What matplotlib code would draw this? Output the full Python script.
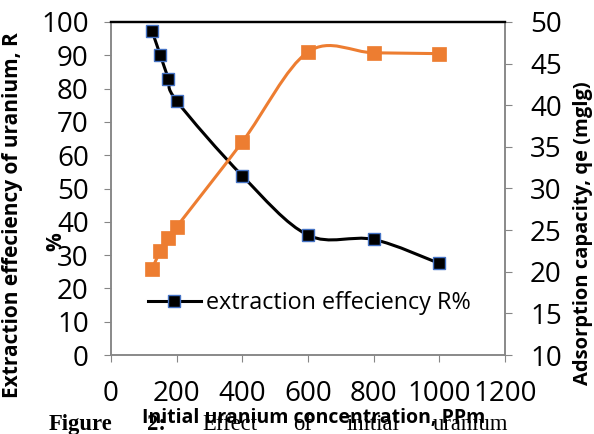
import matplotlib
matplotlib.use("Agg")
import matplotlib.pyplot as plt
from matplotlib.path import Path
from matplotlib.patches import PathPatch
from matplotlib.lines import Line2D

# values
conc = [125, 150, 175, 200, 400, 600, 800, 1000]          # Initial uranium concentration, PPm
extraction = [97.3, 90.1, 82.9, 76.3, 53.8, 36.0, 34.7, 27.5]   # R %
adsorption = [20.3, 22.5, 24.1, 25.4, 35.6, 46.4, 46.3, 46.2]   # qe (mg/g)

left_ticks = list(range(0, 101, 10))
right_ticks = list(range(10, 51, 5))
x_ticks = list(range(0, 1201, 200))

W, H = 594, 434
plt.rcParams['font.family'] = ['Open Sans', 'DejaVu Sans']

ORANGE = '#ED7D31'
GRAY = '#868686'
EDGE_BLUE = '#4472C4'


def smooth_path(xs, ys):
    """Excel-like smoothed line: Catmull-Rom converted to cubic Bezier segments."""
    pts = list(zip(xs, ys))
    n = len(pts)
    verts = [pts[0]]
    codes = [Path.MOVETO]
    for i in range(n - 1):
        p0 = pts[i - 1] if i > 0 else pts[i]
        p1 = pts[i]
        p2 = pts[i + 1]
        p3 = pts[i + 2] if i + 2 < n else pts[i + 1]
        c1 = (p1[0] + (p2[0] - p0[0]) / 6, p1[1] + (p2[1] - p0[1]) / 6)
        c2 = (p2[0] - (p3[0] - p1[0]) / 6, p2[1] - (p3[1] - p1[1]) / 6)
        verts += [c1, c2, p2]
        codes += [Path.CURVE4] * 3
    return Path(verts, codes)


fig = plt.figure(figsize=(W / 100, H / 100), dpi=100)
ax1 = fig.add_axes([111 / W, 1 - 355 / H, 394 / W, 333 / H])
ax2 = ax1.twinx()

# ---- black series: extraction efficiency (left axis) ----
ax1.add_patch(PathPatch(smooth_path(conc, extraction), fill=False,
                        edgecolor='black', lw=2.2, capstyle='round', zorder=2))
ax1.plot(conc, extraction, ls='none', marker='s', ms=9.2,
         mfc='black', mec=EDGE_BLUE, mew=1.0, zorder=3)

# ---- orange series: adsorption capacity (right axis) ----
ax2.add_patch(PathPatch(smooth_path(conc, adsorption), fill=False,
                        edgecolor=ORANGE, lw=2.2, capstyle='round', zorder=2))
ax2.plot(conc, adsorption, ls='none', marker='s', ms=9.6,
         mfc=ORANGE, mec=ORANGE, mew=0.5, zorder=3)

ax1.set_xlim(0, 1200)
ax1.set_ylim(0, 100)
ax2.set_ylim(10, 50)
ax1.set_xticks(x_ticks)
ax1.set_yticks(left_ticks)
ax2.set_yticks(right_ticks)

for ax in (ax1, ax2):
    for side in ('left', 'right', 'bottom'):
        ax.spines[side].set_color(GRAY)
        ax.spines[side].set_linewidth(1.1)
    ax.spines['top'].set_color('black')
    ax.spines['top'].set_linewidth(1.6)
    ax.tick_params(colors=GRAY, labelcolor='black', labelsize=20,
                   length=5, width=0.8, direction='out')
ax1.tick_params(axis='y', pad=11)
ax1.tick_params(axis='x', pad=13)
ax2.tick_params(axis='y', pad=13)

# legend (only the black series)
handle = Line2D([], [], color='black', lw=2.2, marker='s', ms=9.2,
                mfc='black', mec=EDGE_BLUE, mew=1.0)
fs_leg = 16.8
ax1.legend([handle], ['extraction effeciency R%'], loc='center left',
           bbox_to_anchor=(148 / W, 1 - 303 / H), bbox_transform=fig.transFigure,
           frameon=False, fontsize=fs_leg, borderpad=0, borderaxespad=0,
           handlelength=38 / fs_leg, handletextpad=4.0 / fs_leg, numpoints=1)

# axis titles
fig.text(13 / W, 1 - 32 / H, 'Extraction effeciency of uranium, R', rotation=90,
         ha='center', va='top', fontsize=15, fontweight='bold')
fig.text(56 / W, 1 - 242 / H, '%', rotation=90, ha='center', va='center',
         fontsize=15, fontweight='bold')
fig.text(583 / W, 1 - 233 / H, 'Adsorption capacity, qe (mglg)', rotation=90,
         ha='center', va='center', fontsize=14.5, fontweight='bold')

# caption underneath (document text)
cap = [('Figure', 49, 'bold'), ('2:', 147, 'bold'), ('Effect', 202, 'normal'),
       ('of', 293, 'normal'), ('initial', 347, 'normal'), ('uranium', 433, 'normal')]
for word, xpix, weight in cap:
    fig.text(xpix / W, 1 - 430 / H, word, ha='left', va='baseline',
             fontsize=16.3, fontweight=weight, family='Liberation Serif')

fig.text(314 / W, 1 - 423 / H, 'Initial uranium concentration, PPm', ha='center',
         va='baseline', fontsize=14, fontweight='bold')

fig.savefig('out.png', dpi=100)
